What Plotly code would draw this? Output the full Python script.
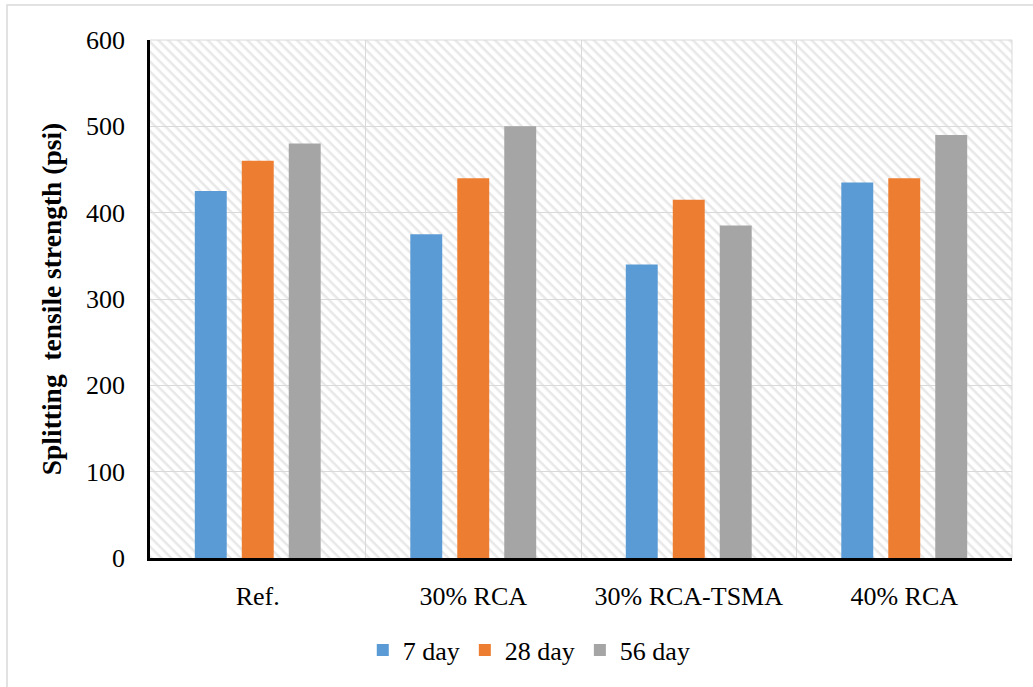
import base64
import plotly.graph_objects as go

categories = ["Ref.", "30% RCA", "30% RCA-TSMA", "40% RCA"]
series_names = ["7 day", "28 day", "56 day"]
day7 = [425, 375, 340, 435]
day28 = [460, 440, 415, 440]
day56 = [480, 500, 385, 490]
y_ticks = [0, 100, 200, 300, 400, 500, 600]

colors = ["#5B9BD5", "#ED7D31", "#A5A5A5"]
FONT = "Liberation Serif, Times New Roman, serif"
FS = 26

# plot area geometry (px)
L, R, T, B = 150, 21, 40, 129
W, H = 1033, 687
PW, PH = W - L - R, H - T - B

svg = f'''<svg xmlns="http://www.w3.org/2000/svg" width="{PW}" height="{PH}" viewBox="0 0 {PW} {PH}" preserveAspectRatio="none">
<defs><pattern id="p" patternUnits="userSpaceOnUse" width="7" height="7" patternTransform="rotate(45)">
<rect width="7" height="7" fill="#ffffff"/><rect width="7" height="2.5" fill="#e8e8e8"/></pattern></defs>
<rect width="{PW}" height="{PH}" fill="url(#p)"/></svg>'''
src = "data:image/svg+xml;base64," + base64.b64encode(svg.encode()).decode()

fig = go.Figure()
for name, vals, c in zip(series_names, [day7, day28, day56], colors):
    fig.add_trace(go.Bar(x=categories, y=vals, name=name, marker=dict(color=c, line=dict(width=0))))

fig.update_layout(
    width=W, height=H,
    margin=dict(l=L, r=R, t=T, b=B),
    paper_bgcolor="white",
    plot_bgcolor="rgba(0,0,0,0)",
    barmode="group",
    bargap=0.346,
    bargroupgap=0.32,
    font=dict(family=FONT, size=FS, color="#000000"),
    showlegend=True,
    legend=dict(orientation="h", x=0.44, xanchor="center", y=-0.178, yanchor="middle",
                font=dict(family=FONT, size=FS, color="#000"), itemwidth=30,
                traceorder="normal", bgcolor="rgba(0,0,0,0)"),
    xaxis=dict(type="category", tickson="boundaries", showgrid=True, gridcolor="#d9d9d9", gridwidth=1,
               showline=True, linecolor="#000000", linewidth=2.5, ticks="", ticklabelstandoff=13,
               tickfont=dict(family=FONT, size=FS, color="#000"), mirror=False, zeroline=False),
    yaxis=dict(range=[0, 600], tickvals=y_ticks, showgrid=True, gridcolor="#d9d9d9", gridwidth=1,
               showline=True, linecolor="#000000", linewidth=2.5, ticks="", ticklabelstandoff=17,
               zeroline=False, tickfont=dict(family=FONT, size=FS, color="#000"),
               title=dict(text="<b>Splitting\u00a0 tensile strength (psi)</b>", standoff=17,
                          font=dict(family=FONT, size=27.5, color="#000"))),
    images=[dict(source=src, xref="paper", yref="paper", x=0, y=1, sizex=1, sizey=1,
                 sizing="stretch", layer="below", xanchor="left", yanchor="top")],
    shapes=[
        dict(type="line", xref="paper", yref="paper", x0=1, x1=1, y0=0, y1=1,
             line=dict(color="#d9d9d9", width=1), layer="below"),
        dict(type="line", xref="paper", yref="paper", x0=0, x1=1, y0=1, y1=1,
             line=dict(color="#d9d9d9", width=1), layer="below"),
        dict(type="rect", xref="paper", yref="paper",
             x0=(7 - L) / PW, x1=(W + 10 - L) / PW,
             y0=(H - B - (H + 10)) / PH, y1=(H - B - 5) / PH,
             line=dict(color="#d9d9d9", width=1.5), fillcolor="rgba(0,0,0,0)"),
    ],
)

fig.write_html("out.html", config={"displayModeBar": False},
               post_script="document.body.style.margin='0';document.body.style.overflow='hidden';")
